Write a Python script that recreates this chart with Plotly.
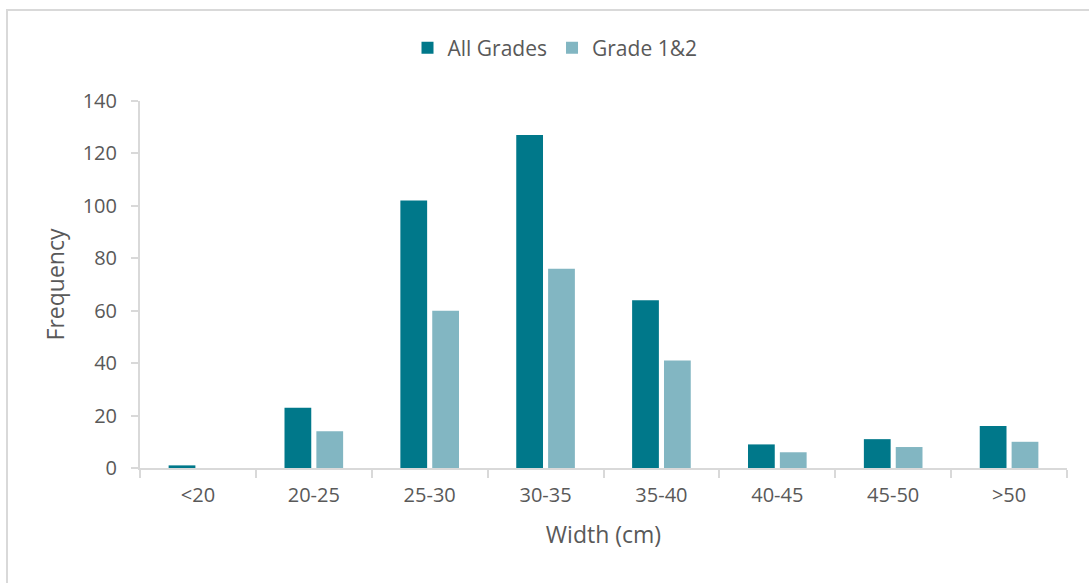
import plotly.graph_objects as go

# Width classes and counts
categories = ["<20", "20-25", "25-30", "30-35", "35-40", "40-45", "45-50", ">50"]
all_grades = [1, 23, 102, 127, 64, 9, 11, 16]
grade_1_2 = [0, 14, 60, 76, 41, 6, 8, 10]
y_ticks = [0, 20, 40, 60, 80, 100, 120, 140]

DARK = "#00788A"
LIGHT = "#82B6C2"
AXIS = "#D9D9D9"
TEXT = "#595959"
FONT = "Open Sans"

W, H = 1089, 583
L, R, T, B = 140, 22, 101, 115
pw, ph = W - L - R, H - T - B

def px_x(p):
    return (p - L) / pw

def px_y(p):
    return (H - B - p) / ph

fig = go.Figure()
fig.add_trace(go.Bar(x=categories, y=all_grades, name="All Grades",
                     marker=dict(color=DARK, line=dict(width=0))))
fig.add_trace(go.Bar(x=categories, y=grade_1_2, name="Grade 1&2",
                     marker=dict(color=LIGHT, line=dict(width=0))))

fig.update_layout(
    width=W, height=H,
    margin=dict(l=L, r=R, t=T, b=B, pad=0),
    paper_bgcolor="white", plot_bgcolor="white",
    barmode="group", bargap=0.45, bargroupgap=0.16,
    font=dict(family=FONT, size=20, color=TEXT),
    showlegend=True,
    legend=dict(orientation="h", x=px_x(555), xanchor="center",
                y=px_y(48), yanchor="middle",
                font=dict(family=FONT, size=21, color=TEXT),
                traceorder="normal", itemwidth=30),
    xaxis=dict(
        type="category", showgrid=False, showline=True, linecolor=AXIS, linewidth=2,
        ticks="outside", tickson="boundaries", ticklen=8, tickcolor=AXIS, tickwidth=2,
        ticklabelstandoff=8,
        tickfont=dict(family=FONT, size=20, color=TEXT),
        title=dict(text="Width (cm)", font=dict(family=FONT, size=23, color=TEXT), standoff=20),
    ),
    yaxis=dict(
        range=[0, 140], tickvals=y_ticks, showgrid=False, zeroline=False,
        showline=True, linecolor=AXIS, linewidth=2,
        ticks="outside", ticklen=7, tickcolor=AXIS, tickwidth=2,
        ticklabelstandoff=10,
        tickfont=dict(family=FONT, size=20, color=TEXT),
        title=dict(text="Frequency", font=dict(family=FONT, size=23, color=TEXT), standoff=12),
    ),
    shapes=[dict(type="rect", xref="paper", yref="paper",
                 x0=px_x(7), x1=px_x(W + 10), y0=px_y(H + 10), y1=px_y(10),
                 line=dict(color=AXIS, width=2), fillcolor="rgba(0,0,0,0)", layer="below")],
)

fig.write_html("out.html")
